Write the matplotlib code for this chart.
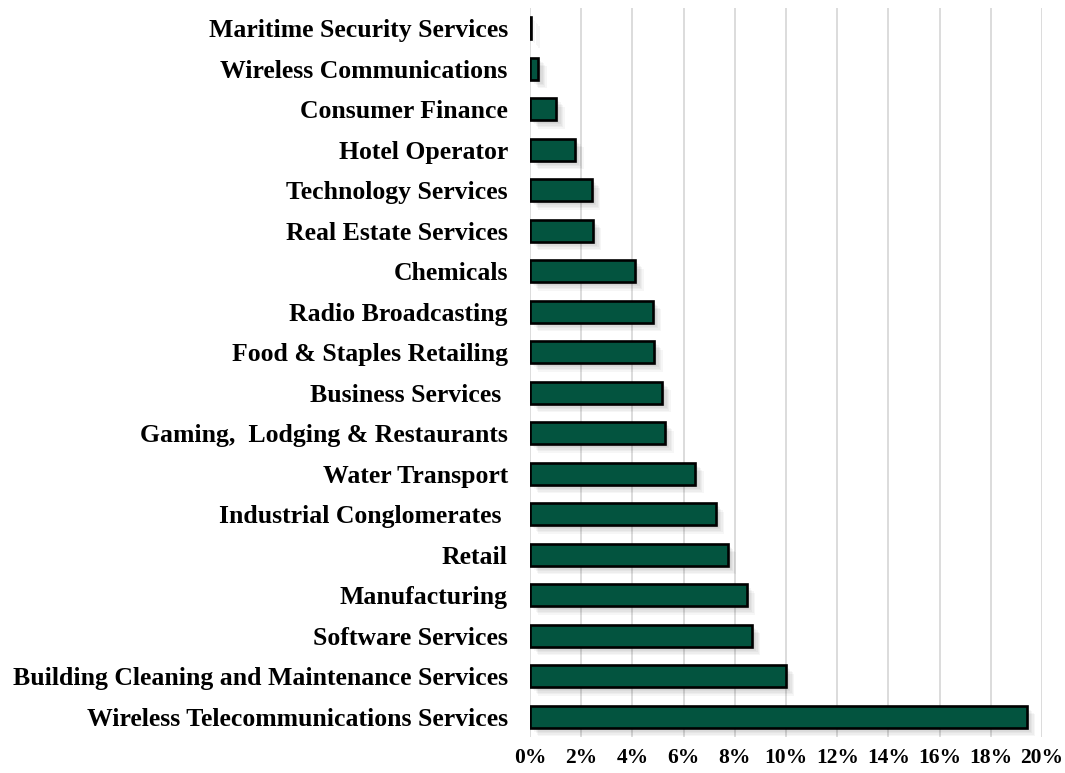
import matplotlib.pyplot as plt
import matplotlib.patheffects as pe
import numpy as np
from matplotlib.ticker import FuncFormatter

# Share of portfolio by industry, listed bottom to top
industries = [
    'Wireless Telecommunications Services',
    'Building Cleaning and Maintenance Services',
    'Software Services',
    'Manufacturing',
    'Retail',
    'Industrial Conglomerates ',
    'Water Transport',
    'Gaming,  Lodging & Restaurants',
    'Business Services ',
    'Food & Staples Retailing',
    'Radio Broadcasting',
    'Chemicals',
    'Real Estate Services',
    'Technology Services',
    'Hotel Operator',
    'Consumer Finance',
    'Wireless Communications',
    'Maritime Security Services',
]
shares = [19.4, 10.0, 8.67, 8.46, 7.73, 7.26, 6.46, 5.28, 5.17, 4.86,
          4.80, 4.12, 2.46, 2.42, 1.77, 1.03, 0.33, 0.05]
xticks = np.arange(0, 21, 2)

plt.rcParams['font.family'] = ['Liberation Serif', 'DejaVu Serif']
plt.rcParams['font.weight'] = 'bold'

fig = plt.figure(figsize=(10.65, 7.73), dpi=100)
ax = fig.add_axes([530/1065, 36/773, 512/1065, 729/773])

y = np.arange(len(industries))

# soft drop shadow built from a few faint offset copies
shadow = [pe.SimplePatchShadow(offset=(d, -d), shadow_rgbFace='k', alpha=0.035)
          for d in (1, 2, 3, 4, 5, 6)]
ax.barh(y, shares, height=0.54, color='#03543f', edgecolor='black',
        linewidth=1.9, zorder=3,
        path_effects=shadow + [pe.Normal()])

ax.set_yticks(y)
ax.set_yticklabels(industries, fontsize=18.5, fontweight='bold')
ax.set_xticks(xticks)
ax.xaxis.set_major_formatter(FuncFormatter(lambda v, p: '{:d}%'.format(int(v))))
ax.tick_params(axis='x', labelsize=15.5, length=0, pad=8)
ax.tick_params(axis='y', length=0, pad=16)
for lab in ax.get_xticklabels():
    lab.set_fontweight('bold')

ax.set_xlim(0, 20)
ax.set_ylim(-0.5, len(industries) - 0.5)
ax.grid(axis='x', color='#d9d9d9', linewidth=1.3, zorder=0)
ax.set_axisbelow(True)
for s in ax.spines.values():
    s.set_visible(False)

fig.savefig('out.png', dpi=100)
